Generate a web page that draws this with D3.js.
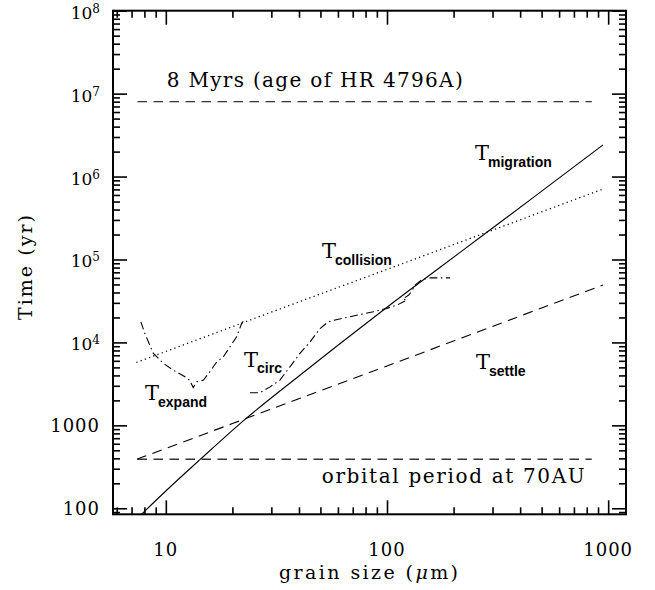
<!DOCTYPE html>
<html>
<head>
<meta charset="utf-8">
<script src="https://cdn.jsdelivr.net/npm/d3@7"></script>
<style>
  html, body { margin: 0; padding: 0; background: #fff; }
  svg { display: block; }
  text { fill: #000; }
</style>
</head>
<body>
<svg id="chart" width="655" height="590"></svg>
<script>
// ---- data ----
const xDomain = [5.77, 1204];
const yDomain = [84.6, 1e8];

const xMajorTicks = [10, 100, 1000];
const xTickLabels = ["10", "100", "1000"];
const yMajorTicks = [100, 1000, 1e4, 1e5, 1e6, 1e7, 1e8];
const yTickBase   = ["100", "1000", "10", "10", "10", "10", "10"];
const yTickExp    = ["", "", "4", "5", "6", "7", "8"];

const ageLineX = [7.45, 843];
const ageValue = 8e6;
const orbitLineX = [7.45, 843];
const orbitValue = 390;

const migrationX = [7.5, 10, 14.3, 22.4, 40, 60, 100, 220, 450, 946];
const migrationY = [77.4, 161.6, 388, 1133, 3940, 9230, 26570, 128600, 538000, 2.4e6];

const collisionX = [7.36, 10, 30, 100, 300, 946];
const collisionY = [5740, 7780, 23200, 76000, 226000, 706000];

const settleX = [7.4, 7.9, 20, 50, 100, 200, 500, 946];
const settleY = [390, 417, 1050, 2620, 5200, 10400, 26000, 49100];

const expandX = [7.71, 8.03, 8.77, 9.72, 10.8, 12.2, 12.8, 13.3, 13.8, 14.8, 15.8, 17.0, 18.2, 19.5, 20.9, 22.0, 22.6];
const expandY = [17700, 12900, 7430, 5620, 4630, 3850, 3510, 2860, 3350, 3510, 4420, 5830, 6700, 8850, 11700, 16900, 18600];

const circX = [24.0, 26.6, 29.6, 32.8, 36.4, 40.4, 44.9, 49.8, 54.2, 58.2, 68.0, 86.7, 99.7, 111, 123, 118, 125, 129, 134, 144, 157, 193];
const circY = [2470, 2470, 2910, 3510, 5080, 7370, 10160, 14700, 17700, 18600, 20400, 23400, 25700, 28200, 32400, 33500, 37000, 40800, 49100, 57500, 60100, 60100];

// ---- layout ----
const svg = d3.select("#chart");
const L = 113, R = 626, T = 10.7, B = 514.3;

const x = d3.scaleLog().domain(xDomain).range([L, R]);
const y = d3.scaleLog().domain(yDomain).range([B, T]);

const serif = "'DejaVu Serif', serif";
const sans = "'Liberation Sans', Arial, sans-serif";

svg.append("defs").append("clipPath").attr("id", "clip")
  .append("rect").attr("x", L).attr("y", T).attr("width", R - L).attr("height", B - T);

function minorTicks(domain) {
  const out = [];
  for (let e = Math.floor(Math.log10(domain[0])); e <= Math.ceil(Math.log10(domain[1])); e++) {
    for (let m = 2; m <= 9; m++) {
      const v = m * Math.pow(10, e);
      if (v >= domain[0] && v <= domain[1]) out.push(v);
    }
  }
  return out;
}
const xMinor = minorTicks(xDomain);
const yMinor = minorTicks(yDomain);

function styleAxis(g) {
  g.select(".domain").remove();
  g.selectAll("line").attr("stroke", "#000").attr("stroke-width", 1.6);
  g.selectAll("text").remove();
}
const MAJ = 14, MIN = 7;
svg.append("g").attr("transform", `translate(0,${B})`)
  .call(d3.axisBottom(x).tickValues(xMajorTicks).tickSize(-MAJ)).call(styleAxis);
svg.append("g").attr("transform", `translate(0,${B})`)
  .call(d3.axisBottom(x).tickValues(xMinor).tickSize(-MIN)).call(styleAxis);
svg.append("g").attr("transform", `translate(0,${T})`)
  .call(d3.axisTop(x).tickValues(xMajorTicks).tickSize(-MAJ)).call(styleAxis);
svg.append("g").attr("transform", `translate(0,${T})`)
  .call(d3.axisTop(x).tickValues(xMinor).tickSize(-MIN)).call(styleAxis);
svg.append("g").attr("transform", `translate(${L},0)`)
  .call(d3.axisLeft(y).tickValues(yMajorTicks).tickSize(-MAJ)).call(styleAxis);
svg.append("g").attr("transform", `translate(${L},0)`)
  .call(d3.axisLeft(y).tickValues(yMinor).tickSize(-MIN)).call(styleAxis);
svg.append("g").attr("transform", `translate(${R},0)`)
  .call(d3.axisRight(y).tickValues(yMajorTicks).tickSize(-MAJ)).call(styleAxis);
svg.append("g").attr("transform", `translate(${R},0)`)
  .call(d3.axisRight(y).tickValues(yMinor).tickSize(-MIN)).call(styleAxis);

svg.append("rect").attr("x", L).attr("y", T).attr("width", R - L).attr("height", B - T)
  .attr("fill", "none").attr("stroke", "#000").attr("stroke-width", 2);

// x tick labels
svg.append("g").selectAll("text").data(xMajorTicks).join("text")
  .attr("x", d => x(d)).attr("y", 556)
  .attr("text-anchor", "middle")
  .attr("font-family", serif).attr("font-size", 18)
  .attr("letter-spacing", 1)
  .text((d, i) => xTickLabels[i]);

// y tick labels
const yl = svg.append("g").selectAll("text").data(yMajorTicks).join("text")
  .attr("x", 100)
  .attr("y", (d, i) => yTickExp[i] ? y(d) + 8 : y(d) + 7)
  .attr("text-anchor", "end")
  .attr("font-family", serif);
yl.each(function(d, i) {
  const t = d3.select(this);
  if (yTickExp[i]) {
    t.append("tspan").attr("font-size", 17).text(yTickBase[i]);
    t.append("tspan").attr("font-size", 12).attr("dy", -6).text(yTickExp[i]);
  } else {
    t.append("tspan").attr("font-size", 18).attr("letter-spacing", 1).text(yTickBase[i]);
  }
});

// axis titles
const xt = svg.append("text").attr("x", 279).attr("y", 579)
  .attr("font-family", serif).attr("font-size", 19)
  .attr("textLength", 179).attr("lengthAdjust", "spacing");
xt.append("tspan").text("grain size (");
xt.append("tspan").attr("font-style", "italic").text("μ");
xt.append("tspan").text("m)");

svg.append("text")
  .attr("transform", "translate(32,320) rotate(-90)")
  .attr("font-family", serif).attr("font-size", 19)
  .attr("textLength", 105).attr("lengthAdjust", "spacing")
  .text("Time (yr)");

// lines
const plot = svg.append("g").attr("clip-path", "url(#clip)");
const lineGen = d3.line().x(d => x(d[0])).y(d => y(d[1]));
const smoothGen = d3.line().x(d => x(d[0])).y(d => y(d[1])).curve(d3.curveMonotoneX);
const zip = (a, b) => a.map((v, i) => [v, b[i]]);

plot.append("path").datum(ageLineX.map(v => [v, ageValue]))
  .attr("d", lineGen).attr("fill", "none").attr("stroke", "#333")
  .attr("stroke-width", 1.4).attr("stroke-dasharray", "9.5,6.5");
plot.append("path").datum(orbitLineX.map(v => [v, orbitValue]))
  .attr("d", lineGen).attr("fill", "none").attr("stroke", "#333")
  .attr("stroke-width", 1.4).attr("stroke-dasharray", "9.5,6.5");

plot.append("path").datum(zip(migrationX, migrationY))
  .attr("d", smoothGen).attr("fill", "none").attr("stroke", "#000").attr("stroke-width", 1.1);
plot.append("path").datum(zip(collisionX, collisionY))
  .attr("d", lineGen).attr("fill", "none").attr("stroke", "#000")
  .attr("stroke-width", 1.3).attr("stroke-dasharray", "1.2,3.3");
plot.append("path").datum(zip(settleX, settleY))
  .attr("d", lineGen).attr("fill", "none").attr("stroke", "#000")
  .attr("stroke-width", 1.1).attr("stroke-dasharray", "10,6.5");
plot.append("path").datum(zip(expandX, expandY))
  .attr("d", lineGen).attr("fill", "none").attr("stroke", "#000")
  .attr("stroke-width", 1.1).attr("stroke-dasharray", "8,3.5,1.5,3.5");
plot.append("path").datum(zip(circX, circY))
  .attr("d", lineGen).attr("fill", "none").attr("stroke", "#000")
  .attr("stroke-width", 1.1).attr("stroke-dasharray", "8,3.5,1.5,3.5");

// annotation texts
svg.append("text").attr("x", 166.7).attr("y", 86.7)
  .attr("font-family", serif).attr("font-size", 20)
  .attr("textLength", 296).attr("lengthAdjust", "spacing")
  .text("8 Myrs (age of HR 4796A)");
svg.append("text").attr("x", 321.7).attr("y", 483.3)
  .attr("font-family", serif).attr("font-size", 20)
  .attr("textLength", 263).attr("lengthAdjust", "spacing")
  .text("orbital period at 70AU");

const curveLabels = [
  { main: "T", sub: "expand",    x: 145, y: 400 },
  { main: "T", sub: "circ",      x: 244, y: 366.7 },
  { main: "T", sub: "collision", x: 322, y: 258.3 },
  { main: "T", sub: "migration", x: 475, y: 160 },
  { main: "T", sub: "settle",    x: 476, y: 369 }
];
curveLabels.forEach(l => {
  const t = svg.append("text").attr("x", l.x).attr("y", l.y);
  t.append("tspan").attr("font-family", serif).attr("font-size", 21).text(l.main);
  t.append("tspan").attr("font-family", sans).attr("font-weight", "bold")
    .attr("font-size", 14).attr("dy", 6.5).attr("dx", -1).text(l.sub);
});
</script>
</body>
</html>
